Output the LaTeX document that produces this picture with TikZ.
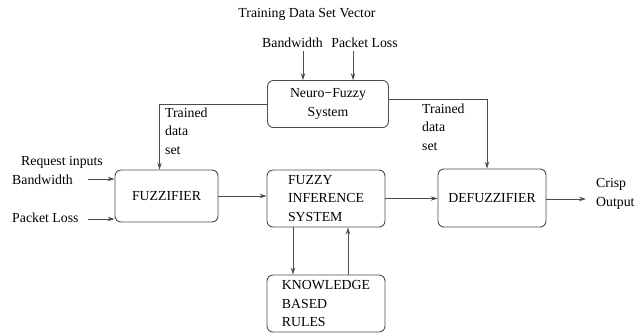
\documentclass[tikz,border=0pt]{standalone}
\usepackage{fontspec}
\setmainfont{Liberation Serif}
\usetikzlibrary{arrows.meta}
\tikzset{
  blk/.style = {draw=black!70, line width=0.9pt, rounded corners=6pt, inner sep=0pt, align=center},
  lbl/.style = {inner sep=0pt, align=left},
  arr/.style = {draw=black!70, line width=0.9pt, -{Stealth[length=7pt,width=4.5pt]}},
}
\begin{document}
\begin{tikzpicture}[x=1pt, y=-1pt, font=\fontsize{13.8}{18.5}\selectfont]
\useasboundingbox (0,0) rectangle (644,333);
%%
%% blokker
\node [blk, minimum width=121pt, minimum height=47pt] (nfs)  at (328,104)   {Neuro−Fuzzy\\System};
\node [blk, minimum width=103pt, minimum height=52pt] (fuzz) at (166.5,196) {FUZZIFIER};
\node [blk, minimum width=118pt, minimum height=57pt, align=left] (fis) at (326,198.5) {FUZZY\\INFERENCE\\SYSTEM};
\node [blk, minimum width=108pt, minimum height=58pt] (defz) at (492,198)   {DEFUZZIFIER};
\node [blk, minimum width=118pt, minimum height=57pt, align=left] (kb)  at (326,303.5) {KNOWLEDGE\\BASED\\RULES};
%%
%% tekster
\node [lbl] (title) at (307,14)  {Training Data Set Vector};
\node [lbl] (bwtr)  at (292.5,43) {Bandwidth};
\node [lbl] (pltr)  at (364.5,43) {Packet Loss};
\node [lbl, anchor=west] (trl) at (165,131) {Trained\\data\\set};
\node [lbl, anchor=west] (trr) at (422,127) {Trained\\data\\set};
\node [lbl] (req)   at (62,162) {Request inputs};
\node [lbl, anchor=west] (bwrq) at (12,180) {Bandwidth};
\node [lbl, anchor=west] (plrq) at (12,218) {Packet Loss};
\node [lbl, anchor=west] (crisp) at (596,194) {Crisp\\Output};
%%
%% piler
\coordinate (bwin) at (303,51);
\coordinate (plin) at (353,51);
\coordinate (bwa)  at (88,179);
\coordinate (pla)  at (88,219);
\coordinate (out)  at (586,199);
\draw [arr] (bwin) -- (bwin |- nfs.north);
\draw [arr] (plin) -- (plin |- nfs.north);
\draw [arr] (nfs.west) -| ([xshift=-7pt]fuzz.north);
\draw [arr] ([yshift=5pt]nfs.east) -| ([xshift=-5pt]defz.north);
\draw [arr] (bwa) -- (bwa -| fuzz.west);
\draw [arr] (pla) -- (pla -| fuzz.west);
\draw [arr] (fuzz.east) -- (fuzz.east -| fis.west);
\draw [arr] (fis.east) -- (fis.east -| defz.west);
\draw [arr] (defz.east |- out) -- (out);
\draw [arr] ([xshift=-33pt]fis.south) -- ([xshift=-33pt]fis.south |- kb.north);
\draw [arr] ([xshift=22pt]kb.north) -- ([xshift=22pt]kb.north |- fis.south);
%%
\end{tikzpicture}
\end{document}
